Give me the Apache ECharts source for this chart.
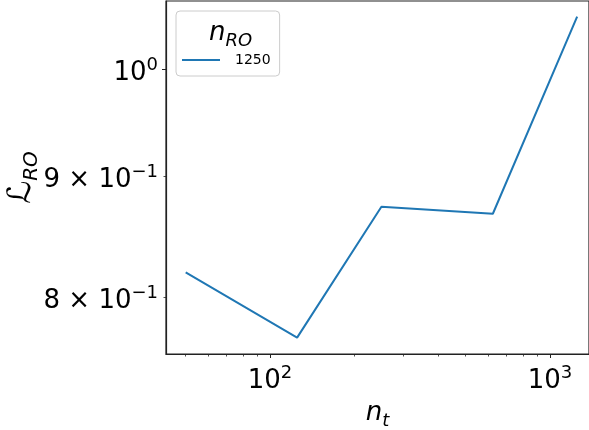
<!DOCTYPE html>
<html>
<head>
<meta charset="utf-8">
<script src="https://cdn.jsdelivr.net/npm/echarts@6/dist/echarts.min.js"></script>
<style>
  html, body { margin: 0; padding: 0; background: #fff; }
  #chart { width: 589px; height: 430px; }
</style>
</head>
<body>
<div id="chart"></div>
<script>
// Loss L_RO against number of training samples n_t, for n_RO = 1250
const nT = [50, 125, 250, 625, 1250];
const lossRO = [0.8196, 0.7688, 0.8739, 0.8679, 1.0525];
const seriesName = '1250';

// Axis extents (log scales)
const xRange = [42.53, 1378];
const yRange = [0.7566, 1.0688];

// Tick positions and their labels
const xMajorTicks = [100, 1000];
const xMajorLabels = ['{m|10}{s|2}', '{m|10}{s|3}'];
const xMinorTicks = [50, 60, 70, 80, 90, 200, 300, 400, 500, 600, 700, 800, 900];
const yMajorTicks = [1];
const yMinorTicks = [0.8, 0.9];
const yTickLabels = ['{m|8 × 10}{s|−1}', '{m|9 × 10}{s|−1}', '{m|10}{s|0}'];
const yLabelTicks = [0.8, 0.9, 1];

const FONT = 'DejaVu Sans';
const tickRich = {
  m: { fontFamily: FONT, fontSize: 26, color: '#000', lineHeight: 34, verticalAlign: 'bottom' },
  s: { fontFamily: FONT, fontSize: 18, color: '#000', lineHeight: 34, verticalAlign: 'bottom', padding: [0, 0, 12, 0] }
};
const mathRich = {
  i: { fontFamily: FONT, fontStyle: 'italic', fontWeight: 'normal', fontSize: 26, color: '#000', verticalAlign: 'bottom', lineHeight: 30 },
  sub: { fontFamily: FONT, fontStyle: 'italic', fontWeight: 'normal', fontSize: 18, color: '#000', verticalAlign: 'bottom', lineHeight: 30, padding: [0, 0, -4, 0] }
};

const chart = echarts.init(document.getElementById('chart'), null, { renderer: 'canvas' });

chart.setOption({
  animation: false,
  backgroundColor: '#fff',
  grid: {
    left: 166, right: 0, top: 1, bottom: 76,
    show: true, borderColor: '#222', borderWidth: 1.2, backgroundColor: 'transparent',
    containLabel: false,
    outerBoundsMode: 'none'
  },
  title: {
    text: '{i|n}{sub|RO}',
    left: 204,
    top: 11,
    textStyle: { fontWeight: 'normal', rich: mathRich }
  },
  legend: {
    left: 176,
    top: 11,
    orient: 'vertical',
    data: [{ name: seriesName, icon: 'rect' }],
    itemWidth: 38,
    itemHeight: 2,
    padding: [42, 9, 9, 6],
    borderColor: '#cccccc',
    borderWidth: 1,
    borderRadius: 4,
    backgroundColor: 'rgba(255,255,255,0.8)',
    textStyle: { fontFamily: FONT, fontSize: 14, color: '#000', padding: [2, 0, 0, 10] }
  },
  xAxis: [
    {
      type: 'log',
      logBase: 10,
      min: xRange[0],
      max: xRange[1],
      position: 'bottom',
      axisLine: { show: true, lineStyle: { color: '#222', width: 1.2 } },
      axisTick: { show: true, length: 4, lineStyle: { color: '#222', width: 1 }, customValues: xMajorTicks },
      axisLabel: {
        show: true,
        margin: 6,
        customValues: xMajorTicks,
        formatter: function (v) {
          const i = xMajorTicks.findIndex(t => Math.abs(t - v) / t < 1e-6);
          return i >= 0 ? xMajorLabels[i] : '';
        },
        rich: tickRich
      },
      splitLine: { show: false },
      minorTick: { show: false },
      name: '{i|n}{sub|t}',
      nameLocation: 'middle',
      nameGap: 42,
      nameMoveOverlap: false,
      nameTextStyle: { rich: mathRich }
    },
    {
      type: 'log',
      logBase: 10,
      min: xRange[0],
      max: xRange[1],
      position: 'bottom',
      axisLine: { show: false },
      axisTick: { show: true, length: 2.5, lineStyle: { color: '#222', width: 0.8 }, customValues: xMinorTicks },
      axisLabel: { show: false },
      splitLine: { show: false }
    }
  ],
  yAxis: [
    {
      type: 'log',
      logBase: 10,
      min: yRange[0],
      max: yRange[1],
      axisLine: { show: true, lineStyle: { color: '#222', width: 1.2 } },
      axisTick: { show: true, length: 4, lineStyle: { color: '#222', width: 1 }, customValues: yMajorTicks },
      axisLabel: {
        show: true,
        margin: 8,
        customValues: yLabelTicks,
        formatter: function (v) {
          const i = yLabelTicks.findIndex(t => Math.abs(t - v) / t < 1e-6);
          return i >= 0 ? yTickLabels[i] : '';
        },
        rich: tickRich
      },
      splitLine: { show: false },
      name: '{l|ℒ}{sub|RO}',
      nameLocation: 'middle',
      nameRotate: 90,
      nameGap: 128,
      nameMoveOverlap: false,
      nameTextStyle: {
        rich: {
          l: { fontFamily: FONT, fontStyle: 'italic', fontSize: 32, color: '#000', verticalAlign: 'bottom', lineHeight: 36 },
          sub: { fontFamily: FONT, fontStyle: 'italic', fontSize: 20, color: '#000', verticalAlign: 'bottom', lineHeight: 36, padding: [0, 0, -4, 0] }
        }
      }
    },
    {
      type: 'log',
      logBase: 10,
      min: yRange[0],
      max: yRange[1],
      position: 'left',
      axisLine: { show: false },
      axisTick: { show: true, length: 2.5, lineStyle: { color: '#222', width: 0.8 }, customValues: yMinorTicks },
      axisLabel: { show: false },
      splitLine: { show: false }
    }
  ],
  series: [
    {
      name: seriesName,
      type: 'line',
      xAxisIndex: 0,
      yAxisIndex: 0,
      data: nT.map((x, i) => [x, lossRO[i]]),
      symbol: 'none',
      color: '#1f77b4',
      lineStyle: { color: '#1f77b4', width: 2 }
    }
  ]
});
</script>
</body>
</html>
